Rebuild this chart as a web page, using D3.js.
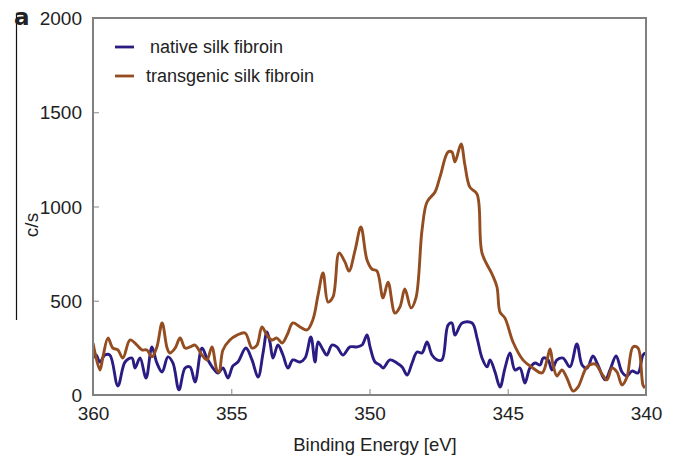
<!DOCTYPE html>
<html>
<head>
<meta charset="utf-8">
<script src="https://cdn.jsdelivr.net/npm/d3@7"></script>
<style>
  body { margin: 0; background: #fff; }
  text { font-family: "Liberation Sans", Arial, sans-serif; fill: #222; }
</style>
</head>
<body>
<svg id="chart" width="677" height="457"></svg>
<script>
// binding energy (eV) and counts per second
var nativeEnergy = [360.00,359.89,359.75,359.57,359.39,359.10,358.84,358.59,358.48,358.30,358.08,357.87,357.69,357.50,357.29,357.11,356.89,356.67,356.49,356.31,356.06,355.88,355.66,355.48,355.30,355.12,354.94,354.76,354.47,354.25,354.03,353.85,353.71,353.60,353.49,353.31,353.13,352.95,352.77,352.51,352.33,352.12,351.97,351.86,351.68,351.54,351.36,351.18,350.96,350.71,350.45,350.27,350.09,349.98,349.80,349.62,349.51,349.26,349.01,348.82,348.64,348.46,348.28,348.10,347.92,347.74,347.56,347.38,347.16,347.02,346.91,346.65,346.29,346.11,345.93,345.75,345.64,345.46,345.28,345.10,344.92,344.74,344.56,344.38,344.20,344.01,343.83,343.72,343.54,343.40,343.22,343.00,342.75,342.50,342.31,342.13,341.92,341.74,341.48,341.30,341.08,340.87,340.69,340.51,340.29,340.11,340.00];
var nativeCounts = [196,212,175,212,212,48,175,196,143,196,90,255,170,122,202,170,27,143,149,69,249,196,143,117,143,90,154,175,249,186,95,223,334,281,196,265,212,143,186,175,196,308,175,281,239,212,265,255,212,255,255,265,318,255,175,159,143,186,170,149,106,170,228,223,281,212,186,186,371,382,318,382,382,302,196,149,186,122,42,143,223,133,143,64,143,170,159,196,186,133,186,196,149,271,159,143,207,159,80,133,207,122,101,127,117,212,223];

var transEnergy = [360.00,359.75,359.64,359.46,359.28,359.10,358.92,358.66,358.41,358.23,358.05,357.87,357.69,357.50,357.32,357.22,357.03,356.85,356.67,356.49,356.31,356.06,355.88,355.70,355.52,355.44,355.30,355.05,354.79,354.50,354.25,354.07,353.89,353.71,353.53,353.35,353.16,352.98,352.77,352.51,352.26,352.04,351.86,351.68,351.50,351.32,351.10,350.89,350.74,350.52,350.31,350.09,349.91,349.73,349.51,349.33,349.08,348.90,348.72,348.50,348.32,348.10,347.92,347.63,347.45,347.16,347.02,346.91,346.69,346.55,346.37,346.11,345.93,345.57,345.39,345.28,345.10,344.81,344.45,344.09,343.76,343.58,343.47,343.36,343.22,343.04,342.86,342.64,342.46,342.13,341.84,341.59,341.41,341.23,341.05,340.87,340.69,340.47,340.29,340.11,340.04];
var transCounts = [276,133,202,302,249,239,196,292,265,239,239,202,255,382,249,223,249,302,249,255,265,212,186,255,133,122,239,292,318,329,249,265,361,318,292,302,276,318,382,361,345,403,531,647,493,520,753,706,658,769,891,716,668,658,515,599,435,467,562,462,515,875,1024,1077,1157,1289,1289,1236,1332,1220,1103,1066,753,642,573,440,408,281,186,143,117,186,244,159,101,133,90,21,42,149,164,111,80,143,122,53,95,255,249,53,37];

var xTicks = [360, 355, 350, 345, 340];
var yTicks = [0, 500, 1000, 1500, 2000];
var seriesNames = ["native silk fibroin", "transgenic silk fibroin"];
var seriesColors = ["#2a1c82", "#934d20"];

var svg = d3.select("#chart");
var plotLeft = 93, plotRight = 646, plotTop = 18, plotBottom = 395;

var x = d3.scaleLinear().domain([360, 340]).range([plotLeft, plotRight]);
var y = d3.scaleLinear().domain([0, 2000]).range([plotBottom, plotTop]);

// stray rule at the very left of the panel
svg.append("line")
    .attr("x1", 16.5).attr("x2", 16.5)
    .attr("y1", 14).attr("y2", 320)
    .attr("stroke", "#111").attr("stroke-width", 1.2);

svg.append("text")
    .attr("x", 14).attr("y", 25)
    .style("font-size", "23px").style("font-weight", "700")
    .style("font-family", "'DejaVu Sans', sans-serif")
    .attr("fill", "#111")
    .text("a");

var lineGen = d3.line()
    .x(d => x(d[0]))
    .y(d => y(d[1]))
    .curve(d3.curveCatmullRom.alpha(0.5));

svg.append("clipPath").attr("id", "plotclip")
    .append("rect")
    .attr("x", plotLeft).attr("y", plotTop)
    .attr("width", plotRight - plotLeft).attr("height", plotBottom - plotTop);

var plot = svg.append("g").attr("clip-path", "url(#plotclip)");

plot.append("path")
    .datum(d3.zip(nativeEnergy, nativeCounts))
    .attr("d", lineGen)
    .attr("fill", "none")
    .attr("stroke", seriesColors[0])
    .attr("stroke-width", 2.9)
    .attr("stroke-linejoin", "round");

plot.append("path")
    .datum(d3.zip(transEnergy, transCounts))
    .attr("d", lineGen)
    .attr("fill", "none")
    .attr("stroke", seriesColors[1])
    .attr("stroke-width", 2.9)
    .attr("stroke-linejoin", "round");

// axes: inward ticks only on bottom and left
var xAxis = d3.axisBottom(x).tickValues(xTicks).tickFormat(d3.format("d")).tickSize(-6).tickPadding(19);
var yAxis = d3.axisLeft(y).tickValues(yTicks).tickFormat(d3.format("d")).tickSize(-6).tickPadding(11);

var gx = svg.append("g").attr("transform", "translate(0," + plotBottom + ")").call(xAxis);
var gy = svg.append("g").attr("transform", "translate(" + plotLeft + ",0)").call(yAxis);

[gx, gy].forEach(function(g){
    g.select(".domain").remove();
    g.selectAll(".tick line").attr("stroke", "#9a9a9a").attr("stroke-width", 1.2);
    g.selectAll(".tick text")
        .style("font-size", "19px")
        .style("font-family", "'Liberation Sans', Arial, sans-serif")
        .attr("fill", "#222");
});
gx.selectAll(".tick").filter(d => d == 360 || d == 340).select("line").remove();
gy.selectAll(".tick").filter(d => d == 0 || d == 2000).select("line").remove();
gy.selectAll(".tick text").attr("dy", "0.35em");
gx.selectAll(".tick text").attr("dy", "0.3em");

// frame
svg.append("rect")
    .attr("x", plotLeft).attr("y", plotTop)
    .attr("width", plotRight - plotLeft).attr("height", plotBottom - plotTop)
    .attr("fill", "none")
    .attr("stroke", "#808080")
    .attr("stroke-width", 2);

svg.append("text")
    .attr("x", 375).attr("y", 451)
    .attr("text-anchor", "middle")
    .style("font-size", "18.5px")
    .text("Binding Energy [eV]");

svg.append("text")
    .attr("transform", "translate(38,225) rotate(-90)")
    .attr("text-anchor", "middle")
    .style("font-size", "19px")
    .text("c/s");

// legend
var legend = svg.append("g");
seriesNames.forEach(function(name, i){
    var ly = 47 + i * 29;
    legend.append("line")
        .attr("x1", 115).attr("x2", 134)
        .attr("y1", ly).attr("y2", ly)
        .attr("stroke", seriesColors[i]).attr("stroke-width", 2.8);
    legend.append("text")
        .attr("x", i == 0 ? 150 : 146).attr("y", ly + 6)
        .style("font-size", "18px")
        .text(name);
});
</script>
</body>
</html>
